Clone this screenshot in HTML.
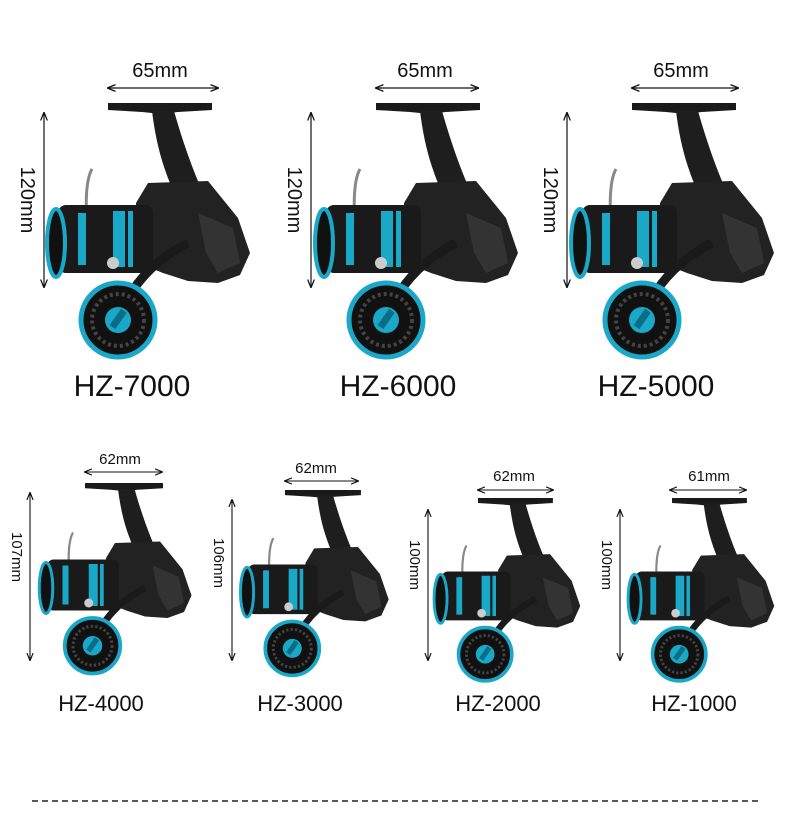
<!DOCTYPE html>
<html><head><meta charset="utf-8"><style>
html,body{margin:0;padding:0;background:#fff;}
svg{display:block;}
text{font-family:"Liberation Sans",sans-serif;fill:#111;}
</style></head><body>
<svg width="790" height="836" viewBox="0 0 790 836" xmlns="http://www.w3.org/2000/svg">
<defs>
<marker id="ah" viewBox="0 0 10 10" refX="9" refY="5" markerWidth="7" markerHeight="7" orient="auto-start-reverse"><path d="M0,1 L10,5 L0,9" fill="none" stroke="#111" stroke-width="1.5"/></marker>
<g id="reel">
  <!-- T bar -->
  <path d="M0,0 L104,0 L104,7 L70,9 L60,10 L44,10 L34,9 L0,7 Z" fill="#1a1a1a"/>
  <!-- stem -->
  <path d="M44,8 C48,40 54,60 62,80 L100,100 C90,80 78,50 66,8 Z" fill="#1e1e1e"/>
  <!-- body -->
  <path d="M40,80 L100,78 L130,115 L142,150 L132,172 L110,180 L80,178 L55,170 L30,160 L28,100 Z" fill="#222"/>
  <path d="M90,110 L125,125 L132,160 L110,170 L98,150 Z" fill="#333"/>
  <!-- bail wire -->
  <path d="M-20,150 C-22,110 -24,80 -16,66" fill="none" stroke="#888" stroke-width="3"/>
  <!-- spool -->
  <rect x="-50" y="102" width="95" height="68" rx="8" fill="#1a1a1a"/>
  <rect x="-30" y="110" width="8" height="52" fill="#1aa8c8"/>
  <rect x="5" y="108" width="12" height="56" fill="#1aa8c8"/>
  <rect x="20" y="108" width="5" height="56" fill="#1aa8c8"/>
  <ellipse cx="-52" cy="140" rx="9" ry="34" fill="#111" stroke="#1aa8c8" stroke-width="4"/>
  <circle cx="5" cy="160" r="6" fill="#ccc"/>
  <!-- handle arm -->
  <path d="M80,140 C60,150 30,170 12,210" fill="none" stroke="#1a1a1a" stroke-width="9"/>
  <!-- knob -->
  <circle cx="10" cy="217" r="37" fill="#111" stroke="#1aa8c8" stroke-width="5"/>
  <circle cx="10" cy="217" r="26" fill="none" stroke="#444" stroke-width="4" stroke-dasharray="3 3"/>
  <circle cx="10" cy="217" r="13" fill="#1aa8c8"/>
  <rect x="6" y="206" width="7" height="20" fill="#0b6d85" transform="rotate(35 10 217)"/>
</g>
</defs>

<!-- top row -->
<use href="#reel" transform="translate(108,103)"/>
<use href="#reel" transform="translate(376,103)"/>
<use href="#reel" transform="translate(632,103)"/>
<g stroke="#111" stroke-width="1.2" marker-start="url(#ah)" marker-end="url(#ah)">
<line x1="108" y1="88" x2="218" y2="88"/>
<line x1="376" y1="88" x2="478" y2="88"/>
<line x1="632" y1="88" x2="738" y2="88"/>
<line x1="44" y1="113" x2="44" y2="287"/>
<line x1="311" y1="113" x2="311" y2="287"/>
<line x1="567" y1="113" x2="567" y2="287"/>
</g>
<g font-size="20" text-anchor="middle">
<text x="160" y="77">65mm</text>
<text x="425" y="77">65mm</text>
<text x="681" y="77">65mm</text>
<text transform="translate(21,200) rotate(90)">120mm</text>
<text transform="translate(288,200) rotate(90)">120mm</text>
<text transform="translate(544,200) rotate(90)">120mm</text>
</g>
<g font-size="30" text-anchor="middle">
<text x="132" y="396">HZ-7000</text>
<text x="398" y="396">HZ-6000</text>
<text x="656" y="396">HZ-5000</text>
</g>

<!-- bottom row -->
<use href="#reel" transform="translate(85,483) scale(0.75)"/>
<use href="#reel" transform="translate(285,490) scale(0.73)"/>
<use href="#reel" transform="translate(478,498) scale(0.72)"/>
<use href="#reel" transform="translate(672,498) scale(0.72)"/>
<g stroke="#111" stroke-width="1.1" marker-start="url(#ah)" marker-end="url(#ah)">
<line x1="85" y1="472" x2="162" y2="472"/>
<line x1="285" y1="481" x2="358" y2="481"/>
<line x1="478" y1="490" x2="553" y2="490"/>
<line x1="670" y1="490" x2="746" y2="490"/>
<line x1="30" y1="493" x2="30" y2="660"/>
<line x1="232" y1="500" x2="232" y2="660"/>
<line x1="428" y1="510" x2="428" y2="660"/>
<line x1="620" y1="510" x2="620" y2="660"/>
</g>
<g font-size="15" text-anchor="middle">
<text x="120" y="464">62mm</text>
<text x="316" y="473">62mm</text>
<text x="514" y="481">62mm</text>
<text x="709" y="481">61mm</text>
<text transform="translate(12,557) rotate(90)">107mm</text>
<text transform="translate(214,563) rotate(90)">106mm</text>
<text transform="translate(410,565) rotate(90)">100mm</text>
<text transform="translate(602,565) rotate(90)">100mm</text>
</g>
<g font-size="22" text-anchor="middle">
<text x="101" y="711">HZ-4000</text>
<text x="300" y="711">HZ-3000</text>
<text x="498" y="711">HZ-2000</text>
<text x="694" y="711">HZ-1000</text>
</g>
<line x1="32" y1="801" x2="758" y2="801" stroke="#222" stroke-width="1.5" stroke-dasharray="6 4"/>
</svg>
</body></html>
